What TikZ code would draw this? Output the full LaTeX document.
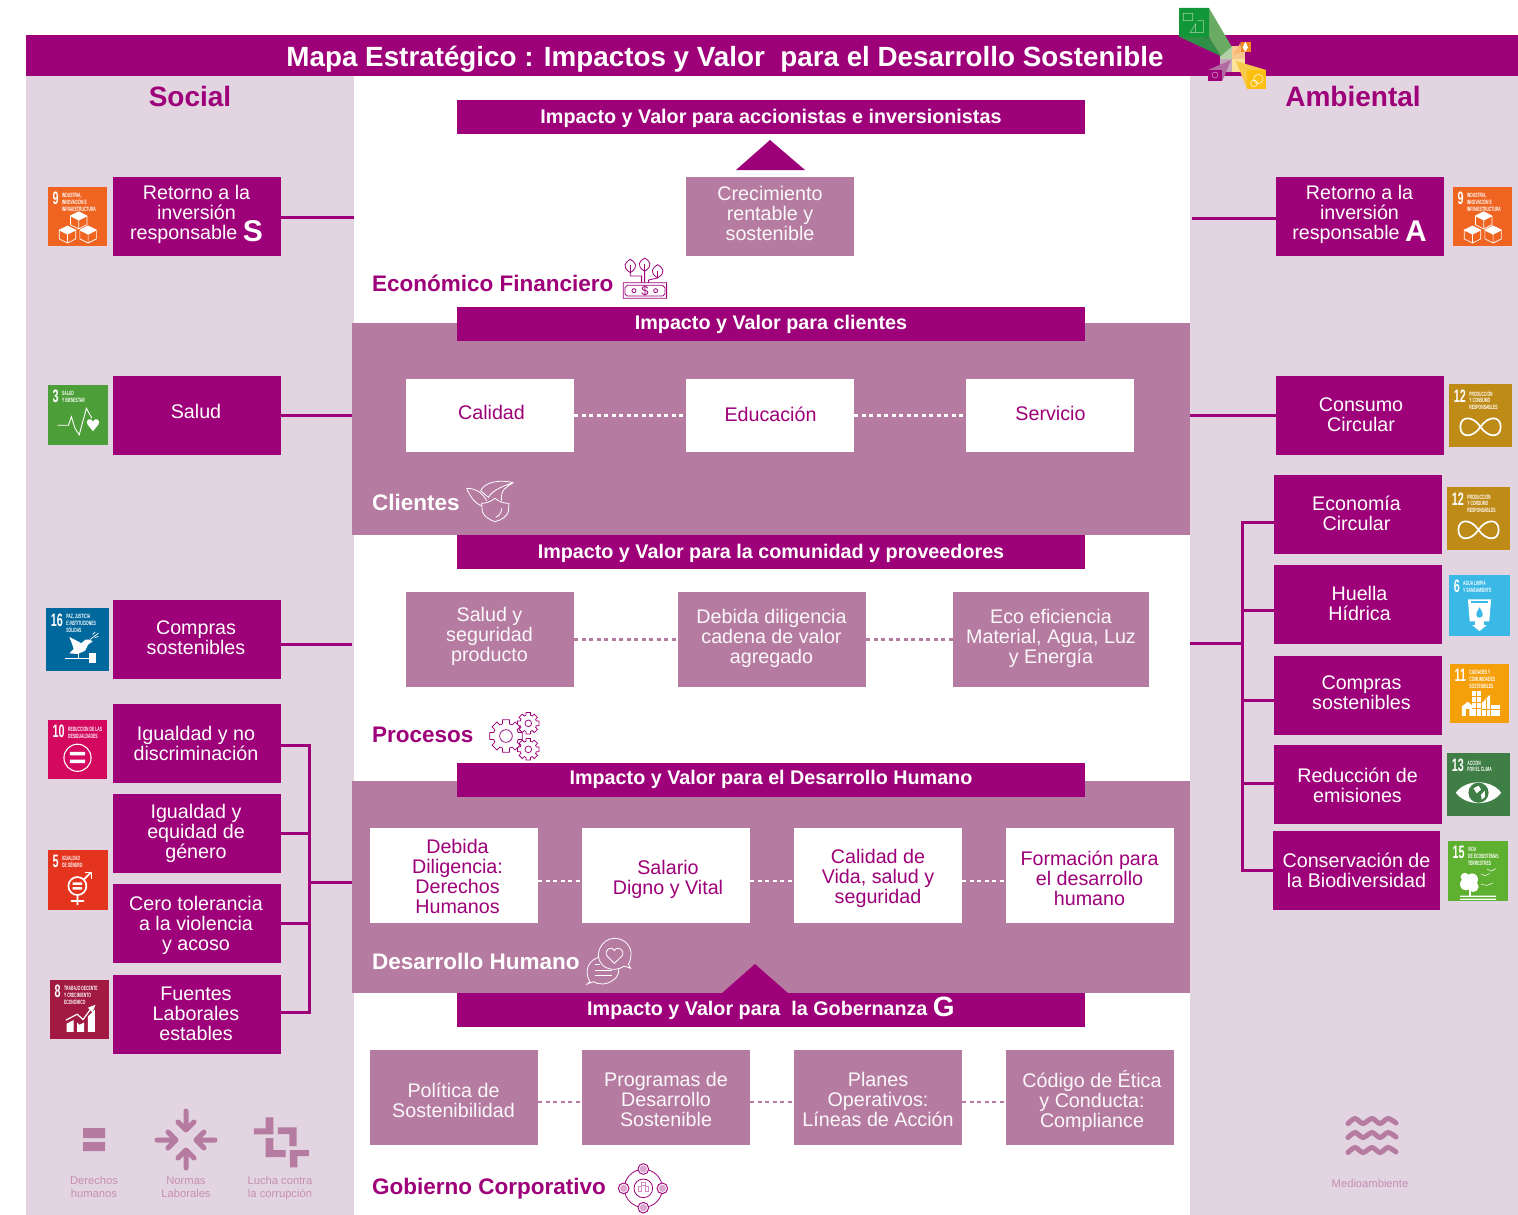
\documentclass[tikz,border=0pt]{standalone}
\usepackage{fontspec}
\setmainfont{Liberation Sans}
\newfontfamily\sdgf[FakeStretch=0.6]{Liberation Sans}
\newfontfamily\sdglabf[FakeStretch=0.55]{Liberation Sans}
\definecolor{mag}{HTML}{9E0079}
\definecolor{mauve}{HTML}{B67BA1}
\definecolor{pale}{HTML}{E2D4E0}
\definecolor{softtxt}{HTML}{C68FB4}
\definecolor{lgA}{HTML}{B3CFA6}\definecolor{lgB}{HTML}{F8C88F}\definecolor{lgC}{HTML}{C4A7BE}\definecolor{lgD}{HTML}{FBE29A}
\definecolor{lgE}{HTML}{69AB62}\definecolor{lgF}{HTML}{2F8F47}\definecolor{lgG}{HTML}{119638}\definecolor{lgH}{HTML}{A6D4A8}
\definecolor{lgI}{HTML}{F8B673}\definecolor{lgJ}{HTML}{F08A1E}\definecolor{lgK}{HTML}{B06AA0}\definecolor{lgL}{HTML}{E2C0DA}
\definecolor{lgM}{HTML}{F7C948}\definecolor{lgN}{HTML}{FDC010}
\tikzset{
  x=1pt,y=-1pt,
  conn/.style={draw=mag,line width=3pt},
  dotw/.style={draw=white,line width=2.5pt,dash pattern=on 4pt off 3.5pt},
  dotm/.style={draw=mauve,line width=2.5pt,dash pattern=on 4pt off 3.5pt},
  boxshape/.style={rectangle,inner sep=0pt,outer sep=0pt},
  boxtext/.style={inner sep=0pt,outer sep=0pt,align=center,font=\fontsize{19.7}{20}\selectfont},
  magbox/.style={boxshape,fill=mag},
  mauvebox/.style={boxshape,fill=mauve},
  whitebox/.style={boxshape,fill=white},
  magtxt/.style={boxtext,text=white},
  mauvetxt/.style={boxtext,text=white!95!mauve},
  whitetxt/.style={boxtext,text=mag},
  bartxt/.style={inner sep=0pt,text=white,font=\fontsize{19.75}{22}\selectfont\bfseries},
  sechead/.style={inner sep=0pt,anchor=west,font=\fontsize{22.5}{25}\selectfont\bfseries},
  sidehead/.style={inner sep=0pt,text=mag,font=\fontsize{28}{30}\selectfont\bfseries},
  smalltxt/.style={inner sep=0pt,align=center,text=softtxt,font=\fontsize{11.2}{13}\selectfont},
  sdgnum/.style={inner sep=0pt,anchor=north west,text=white,font=\fontsize{18}{18}\selectfont\sdgf\bfseries},
  sdglab/.style={inner sep=0pt,anchor=north west,align=left,text=white,font=\fontsize{6.2}{6.9}\selectfont\sdglabf\bfseries},
}
% name x1 y1 x2 y2 style tx ty text
\newcommand{\bx}[9]{%
  \node[#6box,minimum width={#4-#2},minimum height={#5-#3}] (#1) at ({(#2+#4)/2},{(#3+#5)/2}) {};
  \node[#6txt] (#1t) at (#7,#8) {#9};}
\newcommand{\sdg}[8]{%
  \node[boxshape,fill=#5,minimum size=#4,anchor=north west] (#1) at (#2,#3) {};
  \node[sdgnum] (#1n) at ({#2+0.075*#4},{#3+0.085*#4}) {#6};
  \node[sdglab] (#1l) at ([xshift=3pt,yshift=-1pt]#1n.north east) {#7};
  \begin{scope}[shift={(#2,#3)},x=#4pt,y=-#4pt]#8\end{scope}}
\newcommand{\iccubes}{%
  \foreach \cx/\cy in {0.52/0.55,0.33/0.79,0.68/0.79}{
    \draw[white,line width=.7pt] (\cx,\cy-.13)--(\cx+.14,\cy-.06)--(\cx+.14,\cy+.09)--(\cx,\cy+.16)--(\cx-.14,\cy+.09)--(\cx-.14,\cy-.06)--cycle
     (\cx-.14,\cy-.06)--(\cx,\cy+.01)--(\cx+.14,\cy-.06) (\cx,\cy+.01)--(\cx,\cy+.16);
    \fill[white] (\cx,\cy-.13)--(\cx+.14,\cy-.06)--(\cx,\cy+.01)--(\cx-.14,\cy-.06)--cycle;}}
\newcommand{\icheart}{%
  \draw[white,line width=.9pt] (.16,.67)--(.34,.67)--(.39,.53)--(.45,.72)--(.52,.83)--(.64,.39)--(.73,.55);
  \fill[white] (.75,.77)--(.66,.66) .. controls (.62,.56) and (.72,.54) .. (.75,.61) .. controls (.78,.54) and (.88,.56) .. (.84,.66)--cycle;}
\newcommand{\icdove}{%
  \fill[white] (.37,.46)--(.47,.51)--(.56,.56)--(.63,.5)--(.69,.5)--(.74,.53)--(.67,.58)--(.62,.68)--(.5,.73)--(.37,.72)--(.44,.65)--(.41,.56)--cycle;
  \draw[white,line width=.7pt] (.7,.5)--(.83,.4) (.74,.42)--(.78,.38) (.78,.47)--(.83,.45);
  \draw[white,line width=1.4pt] (.3,.8)--(.68,.8) (.52,.72)--(.52,.8);
  \fill[white] (.68,.71) rectangle (.8,.88);}
\newcommand{\icequal}{%
  \draw[white,line width=1.1pt] (.5,.64) circle[radius=.23];
  \fill[white] (.37,.54) rectangle (.63,.6) (.37,.67) rectangle (.63,.73);}
\newcommand{\icgender}{%
  \draw[white,line width=1.7pt] (.49,.6) circle[radius=.15] (.49,.75)--(.49,.92) (.38,.85)--(.6,.85) (.6,.49)--(.72,.37);
  \draw[white,line width=1.3pt] (.61,.37)--(.72,.37)--(.72,.49);
  \fill[white] (.41,.54) rectangle (.57,.58) (.41,.62) rectangle (.57,.66);}
\newcommand{\icgrowth}{%
  \fill[white] (.28,.74)--(.4,.68)--(.4,.88)--(.28,.88)--cycle (.46,.72)--(.5,.76)--(.58,.72)--(.58,.88)--(.46,.88)--cycle (.64,.62)--(.76,.5)--(.76,.88)--(.64,.88)--cycle;
  \draw[white,line width=1.2pt] (.27,.68)--(.46,.58)--(.56,.67)--(.7,.48);
  \fill[white] (.77,.42)--(.72,.55)--(.64,.47)--cycle;}
\newcommand{\icinf}{%
  \draw[white,line width=1.7pt] (.5,.68) .. controls (.38,.5) and (.18,.5) .. (.18,.68) .. controls (.18,.86) and (.38,.86) .. (.5,.68) .. controls (.62,.5) and (.82,.5) .. (.82,.68) .. controls (.82,.86) and (.62,.86) .. (.5,.68);}
\newcommand{\icwater}{%
  \fill[white] (.31,.4)--(.69,.4)--(.66,.76)--(.57,.76)--(.57,.82)--(.62,.82)--(.5,.92)--(.38,.82)--(.43,.82)--(.43,.76)--(.34,.76)--cycle;
  \fill[c6] (.36,.46)--(.64,.46)--(.64,.43)--(.36,.43)--cycle;
  \fill[c6] (.5,.53) .. controls (.44,.62) and (.42,.69) .. (.5,.7) .. controls (.58,.69) and (.56,.62) .. (.5,.53)--cycle;}
\newcommand{\iccity}{%
  \fill[white] (.2,.88)--(.2,.72)--(.3,.64)--(.4,.72)--(.4,.88)--(.33,.88)--(.33,.76)--(.27,.76)--(.27,.88)--cycle;
  \fill[white] (.38,.46) rectangle (.52,.88);
  \fill[white] (.54,.88)--(.54,.66)--(.68,.52)--(.68,.88)--cycle;
  \fill[white] (.7,.7) rectangle (.85,.88);
  \draw[c11,line width=.4pt] (.38,.55)--(.52,.55) (.38,.65)--(.52,.65) (.38,.75)--(.52,.75) (.45,.46)--(.45,.88) (.54,.76)--(.68,.76) (.7,.76)--(.85,.76) (.61,.6)--(.61,.88);}
\newcommand{\iceye}{%
  \fill[white] (.14,.63) .. controls (.3,.41) and (.7,.41) .. (.86,.63) .. controls (.7,.85) and (.3,.85) .. (.14,.63)--cycle;
  \fill[c13] (.5,.63) circle[radius=.16];
  \fill[white] (.42,.56)--(.5,.52)--(.54,.58)--(.47,.64)--cycle (.54,.66)--(.6,.6)--(.6,.7)--(.55,.74)--cycle;}
\newcommand{\ictree}{%
  \fill[white] (.3,.72) circle[radius=.1] (.4,.64) circle[radius=.1] (.42,.76) circle[radius=.09] (.28,.6) circle[radius=.07];
  \fill[white] (.35,.7) rectangle (.38,.92);
  \fill[white] (.2,.91) rectangle (.8,.93) (.2,.96) rectangle (.8,.98);
  \draw[white,line width=.5pt] (.55,.55)--(.62,.58)--(.7,.54) (.65,.47)--(.72,.5)--(.8,.46) (.55,.72)--(.65,.74)--(.75,.7);}
\newcommand{\gearshape}[4]{% cx cy outer inner
  \draw[mag,line width=.75pt,fill=white] ({#1+#3*cos(-12)},{#2+#3*sin(-12)})
   \foreach \a in {0,45,...,315}{
     -- ({#1+#3*cos(\a-12)},{#2+#3*sin(\a-12)}) -- ({#1+#3*cos(\a+12)},{#2+#3*sin(\a+12)})
     -- ({#1+#4*cos(\a+16)},{#2+#4*sin(\a+16)}) -- ({#1+#4*cos(\a+29)},{#2+#4*sin(\a+29)})} -- cycle;}
\definecolor{c9}{HTML}{EF6421}\definecolor{c3}{HTML}{4C9F38}\definecolor{c16}{HTML}{00689D}
\definecolor{c10}{HTML}{D5085F}\definecolor{c5}{HTML}{E5341D}\definecolor{c8}{HTML}{A21942}
\definecolor{c12}{HTML}{BF8B17}\definecolor{c6}{HTML}{3AB8E6}\definecolor{c11}{HTML}{F59F0A}
\definecolor{c13}{HTML}{3F7E44}\definecolor{c15}{HTML}{5EB030}
\begin{document}
\begin{tikzpicture}
\useasboundingbox (0,0) rectangle (1518,1215);
\fill[white] (0,0) rectangle (1518,1215);
% panels
\node[boxshape,fill=pale,minimum width=328,minimum height=1139] (leftpanel) at (190,645.5) {};
\node[boxshape,fill=pale,minimum width=328,minimum height=1139] (rightpanel) at (1354,645.5) {};
\node[boxshape,fill=mauve,minimum width=838,minimum height=212] (band1) at (771,429) {};
\node[boxshape,fill=mauve,minimum width=838,minimum height=212] (band2) at (771,887) {};
\node[boxshape,fill=mag,minimum width=1492,minimum height=41] (titlebar) at (772,55.5) {};
\node[inner sep=0pt,text=white,font=\fontsize{27.8}{31}\selectfont\bfseries] (title) at (725,59) {Mapa Estratégico : Impactos y Valor \ para el Desarrollo Sostenible};
\node[sidehead] (social) at (190,96) {Social};
\node[sidehead] (ambiental) at (1353,96) {Ambiental};
% logo
\begin{scope}[shift={(1150,0)},x=.3333pt,y=-.3333pt]
  \fill[lgA] (210,138) rectangle (247,177);
  \fill[lgB] (247,138) rectangle (285,177);
  \fill[lgC] (210,177) rectangle (247,215);
  \fill[lgD] (247,177) rectangle (285,215);
  \fill[lgE] (177,24)--(245,140)--(212,168)--(177,112)--cycle;
  \fill[lgF] (87,110)--(177,112)--(212,168)--cycle;
  \fill[lgG] (87,24)--(177,24)--(177,112)--(87,110)--cycle;
  \draw[lgH,line width=.5pt] (100,40)--(128,40)--(128,62)--(100,62)--cycle (120,98)--(137,72)--(137,98)--cycle (142,62)--(160,62)--(160,98)--(120,98);
  \fill[lgI] (272,127)--(250,165)--(272,157)--cycle;
  \fill[lgJ] (272,127) rectangle (304,157);
  \fill[white] (286,125)--(294,142)--(286,156)--(278,142)--cycle;
  \fill[lgK] (174,210)--(243,180)--(217,243)--cycle;
  \fill[mag] (174,210) rectangle (217,243);
  \draw[lgL,line width=.4pt] (195,225) circle[radius=9];
  \fill[lgM] (258,183)--(348,210)--(291,210)--(291,267)--cycle;
  \fill[lgN] (291,210) rectangle (348,267);
  \draw[white,line width=.5pt] (325,237) circle[radius=14] (312,250) circle[radius=10];
\end{scope}
% bars
\node[boxshape,fill=mag,minimum width=628,minimum height=34] (bar1) at (771,117) {};
\node[bartxt] (bar1t) at (771,118) {Impacto y Valor para accionistas e inversionistas};
\fill[mag] (736,170)--(770,140)--(805,170)--cycle;
\node[boxshape,fill=mag,minimum width=628,minimum height=34] (bar2) at (771,324) {};
\node[bartxt] (bar2t) at (771,324) {Impacto y Valor para clientes};
\node[boxshape,fill=mag,minimum width=628,minimum height=34] (bar3) at (771,552) {};
\node[bartxt] (bar3t) at (771,553) {Impacto y Valor para la comunidad y proveedores};
\node[boxshape,fill=mag,minimum width=628,minimum height=34] (bar4) at (771,780) {};
\node[bartxt] (bar4t) at (771,779) {Impacto y Valor para el Desarrollo Humano};
\fill[mag] (721,994)--(755,964)--(789,994)--cycle;
\node[boxshape,fill=mag,minimum width=628,minimum height=34] (bar5) at (771,1010) {};
\node[bartxt] (bar5t) at (771,1010) {Impacto y Valor para \ la Gobernanza {\fontsize{28}{22}\selectfont\smash{\raisebox{-1.5pt}{G}}}};
% centre boxes
\bx{crec}{686}{177}{854}{256}{mauve}{770}{213.5}{Crecimiento\\rentable y\\sostenible}
\bx{cal}{406}{379}{574}{452}{white}{491.5}{412.5}{Calidad}
\bx{edu}{686}{379}{854}{452}{white}{770.5}{414.5}{Educación}
\bx{serv}{966}{379}{1134}{452}{white}{1050.5}{413.5}{Servicio}
\draw[dotw] (cal.east)--(edu.west);
\draw[dotw] (edu.east)--(serv.west);
\bx{sal}{406}{592}{574}{687}{mauve}{489.5}{636}{Salud y\\seguridad\\producto}
\bx{deb}{678}{592}{866}{687}{mauve}{771.5}{638.5}{Debida diligencia\\cadena de valor\\agregado}
\bx{eco}{953}{592}{1149}{687}{mauve}{1051}{638.5}{Eco eficiencia\\Material, Agua, Luz\\y Energía}
\draw[dotm] (sal.east)--(deb.west);
\draw[dotm] (deb.east)--(eco.west);
\bx{dd}{370}{828}{538}{923}{white}{457.5}{876.5}{Debida\\Diligencia:\\Derechos\\Humanos}
\bx{sv}{582}{828}{750}{923}{white}{668}{879}{Salario\\Digno y Vital}
\bx{cv}{794}{828}{962}{923}{white}{878}{878.5}{Calidad de\\Vida, salud y\\seguridad}
\bx{fd}{1006}{828}{1174}{923}{white}{1089.5}{878.5}{Formación para\\el desarrollo\\humano}
\draw[dotw] ([yshift=-5.5pt]dd.east)--([yshift=-5.5pt]sv.west);
\draw[dotw] ([yshift=-5.5pt]sv.east)--([yshift=-5.5pt]cv.west);
\draw[dotw] ([yshift=-5.5pt]cv.east)--([yshift=-5.5pt]fd.west);
\bx{ps}{370}{1050}{538}{1145}{mauve}{453.5}{1100.5}{Política de\\Sostenibilidad}
\bx{pd}{582}{1050}{750}{1145}{mauve}{666}{1099}{Programas de\\Desarrollo\\Sostenible}
\bx{po}{794}{1050}{962}{1145}{mauve}{878}{1099}{Planes\\Operativos:\\Líneas de Acción}
\bx{ce}{1006}{1050}{1174}{1145}{mauve}{1092}{1100.5}{Código de Ética\\y Conducta:\\Compliance}
\draw[dotm] ([yshift=-4.5pt]ps.east)--([yshift=-4.5pt]pd.west);
\draw[dotm] ([yshift=-4.5pt]pd.east)--([yshift=-4.5pt]po.west);
\draw[dotm] ([yshift=-4.5pt]po.east)--([yshift=-4.5pt]ce.west);
% section headings
\node[sechead,text=mag] (h1) at (372,283) {Económico Financiero};
\node[sechead,text=white] (h2) at (372,502) {Clientes};
\node[sechead,text=mag] (h3) at (372,735) {Procesos};
\node[sechead,text=white] (h4) at (372,961) {Desarrollo Humano};
\node[sechead,text=mag] (h5) at (372,1189) {Gobierno Corporativo};
% section icons
\begin{scope}[shift={(360,250)},x=.3333pt,y=-.3333pt,line width=.8pt]
  \draw[mag] (790,98)--(920,98)--(920,145)--(790,145)--cycle (802,106)--(908,106)--(915,113)--(915,132)--(908,138)--(802,138)--(795,132)--(795,113)--cycle;
  \draw[mag] (822,122) circle[radius=6] (887,122) circle[radius=6];
  \node[inner sep=0pt,text=mag,font=\fontsize{13}{13}\selectfont] (dollar) at (855,122) {\$};
  \foreach \lx/\ly in {811/68,854/64,893/84}{
    \draw[mag] (\lx,\ly) .. controls (\lx-28,\ly-18) and (\lx-14,\ly-32) .. (\lx,\ly-40) .. controls (\lx+14,\ly-32) and (\lx+28,\ly-18) .. (\lx,\ly);
    \draw[mag] (\lx,\ly)--(\lx,\ly-22);}
  \draw[mag] (811,68)--(811,78)--(845,78)--(845,98) (854,64)--(854,98) (893,84)--(866,90)--(866,98);
\end{scope}
\begin{scope}[shift={(360,470)},x=.3333pt,y=-.3333pt,line width=.8pt]
  \draw[white] (405,85) .. controls (392,95) and (378,100) .. (365,100) -- (367,125) .. controls (372,140) and (390,150) .. (405,155) .. controls (425,150) and (440,140) .. (445,125) -- (447,100) .. controls (430,100) and (418,95) .. (405,85)--cycle;
  \draw[white] (407,142) .. controls (418,138) and (424,128) .. (425,115);
  \draw[white] (460,38) .. controls (420,28) and (375,35) .. (362,62) (460,38) .. controls (440,50) and (420,60) .. (425,92) (362,62) -- (385,82) .. controls (395,65) and (420,50) .. (460,38);
  \draw[white] (320,55) .. controls (345,55) and (365,65) .. (380,92) (320,55) .. controls (330,80) and (345,100) .. (365,108);
\end{scope}
\begin{scope}[shift={(360,700)},x=.3333pt,y=-.3333pt]
  \gearshape{505}{70}{33}{25}
  \draw[mag,line width=.75pt] (505,70) circle[radius=10];
  \gearshape{505}{148}{33}{25}
  \draw[mag,line width=.75pt] (505,148) circle[radius=10];
  \gearshape{438}{108}{50}{38}
  \draw[mag,line width=.75pt] (438,108) circle[radius=19];
\end{scope}
\begin{scope}[shift={(560,930)},x=.3333pt,y=-.3333pt,line width=.8pt]
  \draw[white,fill=mauve] (90,155) .. controls (70,125) and (85,85) .. (125,80) .. controls (170,80) and (195,125) .. (160,150) .. controls (140,165) and (115,165) .. (100,155) -- (82,162) -- cycle;
  \draw[white] (105,102)--(120,102) (105,120)--(155,120) (105,136)--(155,136);
  \draw[white,fill=mauve] (163,25) .. controls (195,25) and (215,50) .. (213,75) .. controls (212,90) and (208,100) .. (205,103) -- (212,115) -- (192,108) .. controls (175,122) and (140,122) .. (125,102) .. controls (100,75) and (125,25) .. (163,25) -- cycle;
  \draw[white] (163,100) -- (141,78) .. controls (130,60) and (155,45) .. (163,62) .. controls (172,45) and (197,60) .. (186,78) -- cycle;
\end{scope}
\begin{scope}[shift={(600,1155)},x=.3333pt,y=-.3333pt]
  \draw[mag,line width=.8pt] (130,100) circle[radius=57];
  \foreach \gx/\gy in {130/42,187/100,130/158,71/100}{
    \draw[mag,line width=.9pt,fill=white] (\gx,\gy) circle[radius=16];
    \fill[mag!35!white] (\gx,\gy) circle[radius=11];}
  \draw[mag,line width=.8pt,fill=white] (130,100) circle[radius=28];
  \draw[mag!45!white,line width=.6pt] (116,95) rectangle (124,108) (136,95) rectangle (144,108) (124,82) rectangle (136,92);
\end{scope}
% left column
\bx{rs}{113}{177}{281}{256}{mag}{196.5}{214.5}{Retorno a la\\inversión\\responsable {\fontsize{30}{20}\selectfont\bfseries\smash{\raisebox{-2pt}{S}}}}
\bx{salud}{113}{376}{281}{455}{mag}{196}{411}{Salud}
\bx{cs}{113}{600}{281}{679}{mag}{196}{638}{Compras\\sostenibles}
\bx{ind}{113}{704}{281}{783}{mag}{196}{743}{Igualdad y no\\discriminación}
\bx{ieg}{113}{794}{281}{873}{mag}{196}{833}{Igualdad y\\equidad de\\género}
\bx{ctv}{113}{884}{281}{963}{mag}{196}{925}{Cero tolerancia\\a la violencia\\y acoso}
\bx{fle}{113}{975}{281}{1054}{mag}{196}{1014}{Fuentes\\Laborales\\estables}
\coordinate (e1) at (354,217);
\coordinate (e2) at (352,415.5);
\coordinate (e3) at (352,644.5);
\coordinate (lj) at (309,882);
\coordinate (e4) at (352,882);
\draw[conn] ([yshift=-.5pt]rs.east)--(e1);
\draw[conn] (salud.east)--(e2);
\draw[conn] ([yshift=-5pt]cs.east)--(e3);
\draw[conn] ([yshift=-1.5pt]ind.east)-|(lj);
\draw[conn] (ieg.east)-|(lj);
\draw[conn] (ctv.east)-|(lj);
\draw[conn] ([yshift=2.5pt]fle.east)-|(lj);
\draw[conn] (lj)--(e4);
% right column
\bx{ra}{1276}{177}{1444}{256}{mag}{1359.5}{214.5}{Retorno a la\\inversión\\responsable {\fontsize{30}{20}\selectfont\bfseries\smash{\raisebox{-2pt}{A}}}}
\bx{cc}{1276}{376}{1444}{455}{mag}{1361}{415}{Consumo\\Circular}
\bx{ec}{1274}{475}{1442}{554}{mag}{1356.5}{513}{Economía\\Circular}
\bx{hh}{1274}{565}{1442}{644}{mag}{1359.5}{603}{Huella\\Hídrica}
\bx{cr}{1274}{656}{1442}{735}{mag}{1361.5}{693}{Compras\\sostenibles}
\bx{re}{1274}{745}{1442}{824}{mag}{1357.5}{785}{Reducción de\\emisiones}
\bx{cb}{1273}{831}{1440}{910}{mag}{1356.5}{870}{Conservación de\\la Biodiversidad}
\coordinate (r1) at (1192,218);
\coordinate (r2) at (1190,415.5);
\coordinate (rj) at (1242,643);
\coordinate (r3) at (1190,643);
\draw[conn] ([yshift=-1.5pt]ra.west)--(r1);
\draw[conn] (cc.west)--(r2);
\draw[conn] ([yshift=-7.5pt]ec.west)-|(rj);
\draw[conn] ([yshift=-5.5pt]hh.west)-|(rj);
\draw[conn] ([yshift=-4.5pt]cr.west)-|(rj);
\draw[conn] ([yshift=1.5pt]re.west)-|(rj);
\draw[conn] (cb.west)-|(rj);
\draw[conn] (rj)--(r3);
% SDG tiles
\sdg{s9}{48}{187}{59}{c9}{9}{INDUSTRIA,\\INNOVACIÓN E\\INFRAESTRUCTURA}{\iccubes}
\sdg{s3}{48}{385}{60}{c3}{3}{SALUD\\Y BIENESTAR}{\icheart}
\sdg{s16}{46}{608}{63}{c16}{16}{PAZ, JUSTICIA\\E INSTITUCIONES\\SÓLIDAS}{\icdove}
\sdg{s10}{48}{720}{59}{c10}{10}{REDUCCIÓN DE LAS\\DESIGUALDADES}{\icequal}
\sdg{s5}{48}{850}{60}{c5}{5}{IGUALDAD\\DE GÉNERO}{\icgender}
\sdg{s8}{50}{980}{59}{c8}{8}{TRABAJO DECENTE\\Y CRECIMIENTO\\ECONÓMICO}{\icgrowth}
\sdg{r9}{1453}{187}{59}{c9}{9}{INDUSTRIA,\\INNOVACIÓN E\\INFRAESTRUCTURA}{\iccubes}
\sdg{r12a}{1449}{384}{63}{c12}{12}{PRODUCCIÓN\\Y CONSUMO\\RESPONSABLES}{\icinf}
\sdg{r12b}{1447}{487}{63}{c12}{12}{PRODUCCIÓN\\Y CONSUMO\\RESPONSABLES}{\icinf}
\sdg{r6}{1449}{575}{61}{c6}{6}{AGUA LIMPIA\\Y SANEAMIENTO}{\icwater}
\sdg{r11}{1450}{664}{59}{c11}{11}{CIUDADES Y\\COMUNIDADES\\SOSTENIBLES}{\iccity}
\sdg{r13}{1447}{753}{63}{c13}{13}{ACCIÓN\\POR EL CLIMA}{\iceye}
\sdg{r15}{1448}{841}{60}{c15}{15}{VIDA\\DE ECOSISTEMAS\\TERRESTRES}{\ictree}
% bottom icons
\fill[mauve] (83,1128) rectangle (105,1138) (83,1142) rectangle (105,1151);
\draw[mauve,line width=5pt,line cap=round,line join=round]
  (186,1111)--(186,1130) (178,1122)--(186,1130)--(194,1122)
  (186,1168)--(186,1150) (178,1158)--(186,1150)--(194,1158)
  (157,1140)--(176,1140) (168,1132)--(176,1140)--(168,1148)
  (215,1140)--(196,1140) (204,1132)--(196,1140)--(204,1148);
\begin{scope}[shift={(40,1100)},x=.3333pt,y=-.3333pt]
  \fill[mauve] (677,52)--(700,52)--(700,103)--(642,103)--(642,85)--(677,85)--cycle;
  \fill[mauve] (714,82)--(770,82)--(770,138)--(748,138)--(748,102)--(714,102)--cycle;
  \fill[mauve] (677,114)--(700,114)--(700,150)--(737,150)--(737,171)--(677,171)--cycle;
  \fill[mauve] (750,150)--(807,150)--(807,168)--(772,168)--(772,202)--(750,202)--cycle;
\end{scope}
\node[smalltxt] (l1) at (94,1186.5) {Derechos\\humanos};
\node[smalltxt] (l2) at (186,1187.5) {Normas\\Laborales};
\node[smalltxt] (l3) at (280,1188) {Lucha contra\\la corrupción};
\foreach \wy in {1121,1135,1150}{
  \draw[mauve,line width=5pt,line cap=round] plot[smooth] coordinates {(1348,\wy+2.5) (1355,\wy-2.5) (1363,\wy+2.5) (1372,\wy-2.5) (1380,\wy+2.5) (1388,\wy-2.5) (1396,\wy+2)};}
\node[smalltxt] (l4) at (1370,1183) {Medioambiente};
\end{tikzpicture}
\end{document}
